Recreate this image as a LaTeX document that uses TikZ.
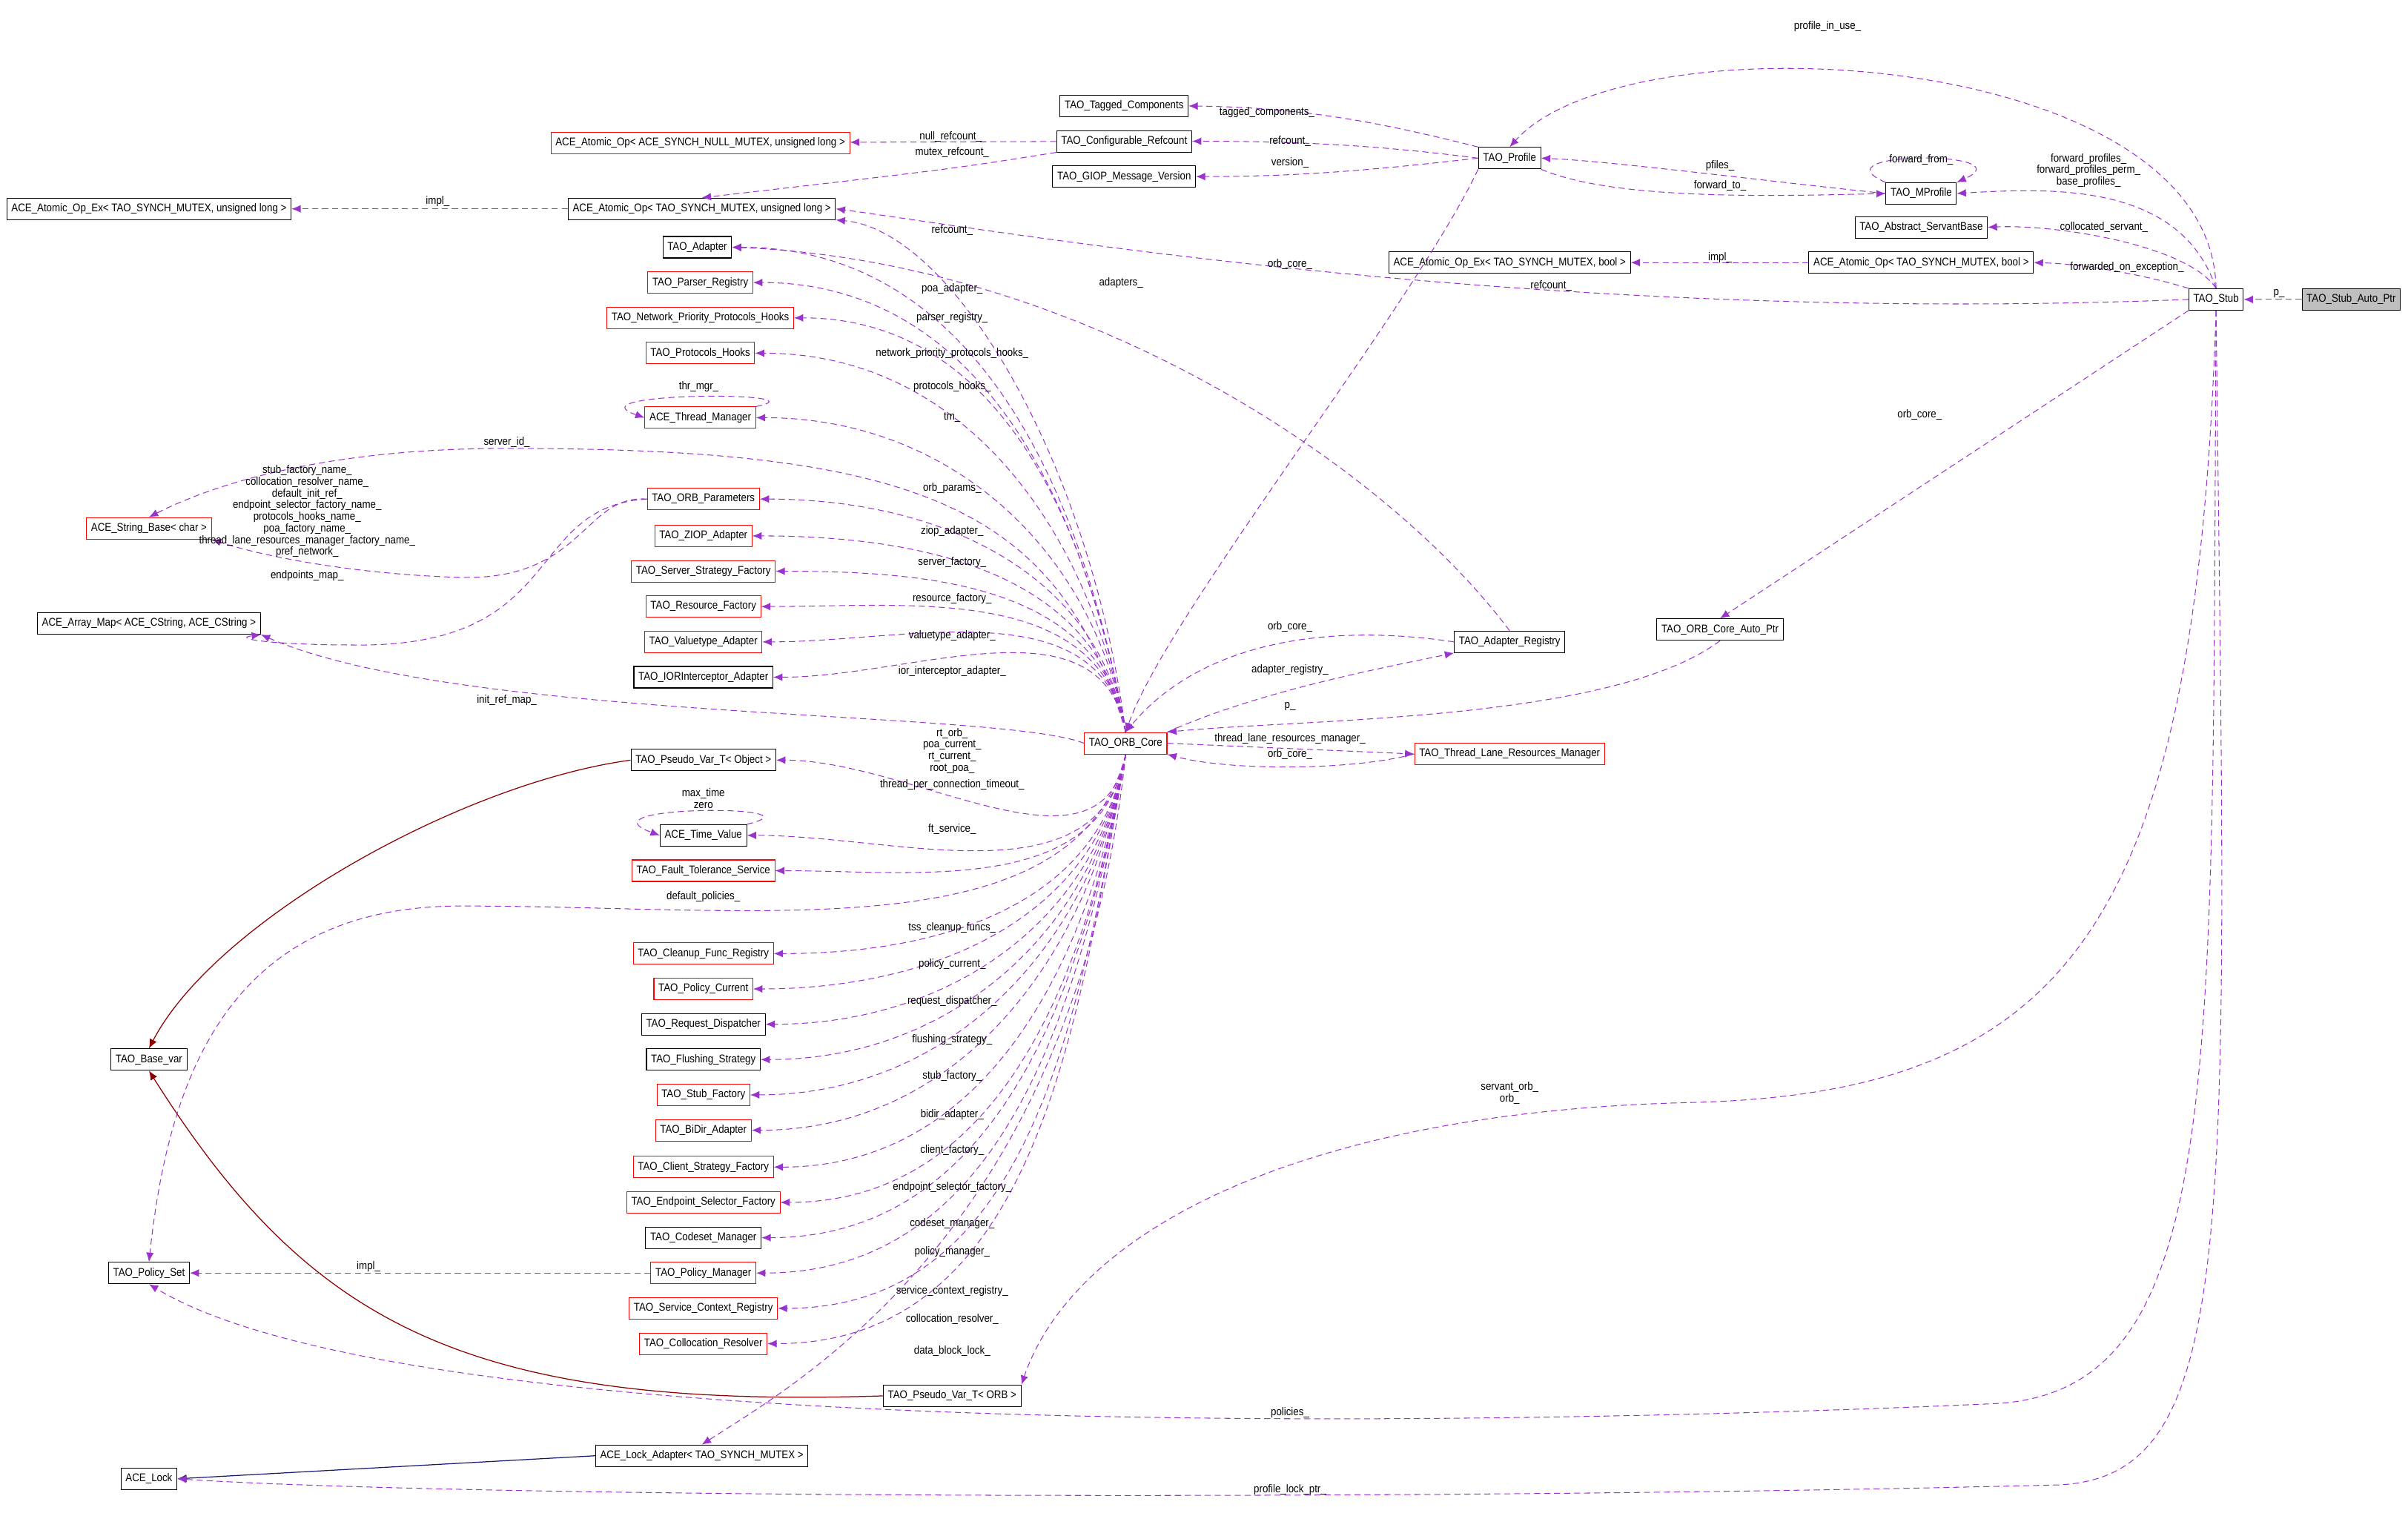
\documentclass[tikz,border=0pt]{standalone}
\usepackage{fontspec}
\setmainfont[FakeStretch=0.88]{Liberation Sans}
\usetikzlibrary{arrows.meta,positioning,calc}
\definecolor{dep}{HTML}{9A32CD}
\definecolor{inh}{HTML}{8B0000}
\definecolor{lockblue}{HTML}{191970}

\begin{document}
\begin{tikzpicture}[
    x=1pt, y=-1pt,
    box/.style={rectangle, draw=black, fill=white, line width=0.5pt, minimum height=14pt, inner xsep=3pt, inner ysep=1pt, font=\fontsize{7.3}{8}\selectfont},
    redbox/.style={box, draw=red},
    cur/.style={box, fill=black!25},
    uses/.style={-{Latex[length=6pt,width=5pt]}, draw=dep, line width=0.5pt, dash pattern=on 4pt off 2.5pt},
    inherits/.style={-{Latex[length=6pt,width=5pt]}, line width=0.6pt},
    lab/.style={font=\fontsize{7.3}{7.6}\selectfont, align=center, inner sep=0pt}
]
    \useasboundingbox (0,0) rectangle (1568,987);

    % classes
    \node[box] (atomicEx) at (97,136) {ACE\_Atomic\_Op\_Ex< TAO\_SYNCH\_MUTEX, unsigned long >};
    \node[redbox] (atomicNull) at (456,93) {ACE\_Atomic\_Op< ACE\_SYNCH\_NULL\_MUTEX, unsigned long >};
    \node[box] (atomicUL) at (457,136) {ACE\_Atomic\_Op< TAO\_SYNCH\_MUTEX, unsigned long >};
    \node[box] (adapter) at (454,161) {TAO\_Adapter};
    \node[redbox] (parser) at (456,184) {TAO\_Parser\_Registry};
    \node[redbox] (netprio) at (456,207) {TAO\_Network\_Priority\_Protocols\_Hooks};
    \node[redbox] (protohooks) at (456,230) {TAO\_Protocols\_Hooks};
    \node[redbox] (thrmgr) at (456,272) {ACE\_Thread\_Manager};
    \node[redbox] (stringbase) at (97,344) {ACE\_String\_Base< char >};
    \node[box] (arraymap) at (97,406) {ACE\_Array\_Map< ACE\_CString, ACE\_CString >};
    \node[redbox] (orbparams) at (458,325) {TAO\_ORB\_Parameters};
    \node[redbox] (ziop) at (458,349) {TAO\_ZIOP\_Adapter};
    \node[redbox] (serverstrat) at (458,372) {TAO\_Server\_Strategy\_Factory};
    \node[redbox] (resfact) at (458,395) {TAO\_Resource\_Factory};
    \node[redbox] (valuetype) at (458,418) {TAO\_Valuetype\_Adapter};
    \node[box] (iorint) at (458,441) {TAO\_IORInterceptor\_Adapter};
    \node[box] (pvobj) at (458,495) {TAO\_Pseudo\_Var\_T< Object >};
    \node[box] (timeval) at (458,544) {ACE\_Time\_Value};
    \node[redbox] (ftserv) at (458,567) {TAO\_Fault\_Tolerance\_Service};
    \node[redbox] (cleanup) at (458,621) {TAO\_Cleanup\_Func\_Registry};
    \node[redbox] (polcur) at (458,644) {TAO\_Policy\_Current};
    \node[box] (reqdisp) at (458,667) {TAO\_Request\_Dispatcher};
    \node[box] (flush) at (458,690) {TAO\_Flushing\_Strategy};
    \node[redbox] (stubfact) at (458,713) {TAO\_Stub\_Factory};
    \node[redbox] (bidir) at (458,736) {TAO\_BiDir\_Adapter};
    \node[redbox] (clientstrat) at (458,760) {TAO\_Client\_Strategy\_Factory};
    \node[redbox] (endpsel) at (458,783) {TAO\_Endpoint\_Selector\_Factory};
    \node[box] (codeset) at (458,806) {TAO\_Codeset\_Manager};
    \node[redbox] (polmgr) at (458,829) {TAO\_Policy\_Manager};
    \node[redbox] (svcctx) at (458,852) {TAO\_Service\_Context\_Registry};
    \node[redbox] (colres) at (458,875) {TAO\_Collocation\_Resolver};
    \node[box] (pvorb) at (620,909) {TAO\_Pseudo\_Var\_T< ORB >};
    \node[box] (basevar) at (97,690) {TAO\_Base\_var};
    \node[box] (polset) at (97,829) {TAO\_Policy\_Set};
    \node[box] (lockadapter) at (457,948) {ACE\_Lock\_Adapter< TAO\_SYNCH\_MUTEX >};
    \node[box] (acelock) at (97,963) {ACE\_Lock};
    \node[redbox] (orbcore) at (733,484) {TAO\_ORB\_Core};
    \node[box] (adreg) at (983,418) {TAO\_Adapter\_Registry};
    \node[redbox] (tlrm) at (983,491) {TAO\_Thread\_Lane\_Resources\_Manager};
    \node[box] (orbautoptr) at (1120,410) {TAO\_ORB\_Core\_Auto\_Ptr};
    \node[box] (tagged) at (732,69) {TAO\_Tagged\_Components};
    \node[box] (confref) at (732,92) {TAO\_Configurable\_Refcount};
    \node[box] (giop) at (732,115) {TAO\_GIOP\_Message\_Version};
    \node[box] (profile) at (983,103) {TAO\_Profile};
    \node[box] (mprofile) at (1251,126) {TAO\_MProfile};
    \node[box] (servantbase) at (1251,148) {TAO\_Abstract\_ServantBase};
    \node[box] (atomicExBool) at (983,171) {ACE\_Atomic\_Op\_Ex< TAO\_SYNCH\_MUTEX, bool >};
    \node[box] (atomicBool) at (1251,171) {ACE\_Atomic\_Op< TAO\_SYNCH\_MUTEX, bool >};
    \node[box] (stub) at (1443,195) {TAO\_Stub};
    \node[cur] (autoptr) at (1531,195) {TAO\_Stub\_Auto\_Ptr};

    % solid connectors
    \draw[inherits, draw=inh, -{Latex[length=6pt,width=5pt,fill=inh]}] (pvobj.west) .. controls (300,510) and (140,600) .. (basevar.north);
    \draw[inherits, draw=inh, -{Latex[length=6pt,width=5pt,fill=inh]}] (pvorb.west) .. controls (300,918) and (200,860) .. (basevar.south);
    \draw[inherits, draw=lockblue, -{Latex[length=6pt,width=5pt,fill=lockblue]}] (lockadapter.west) -- (acelock.east);

    % TAO_Stub side
    \draw[uses] (autoptr) -- (stub);
    \draw[uses] (stub.north) .. controls (1440,30) and (1060,10) .. (profile.north);
    \draw[uses] (stub.north) .. controls (1420,120) and (1340,122) .. (mprofile.east);
    \draw[uses] (stub.north) .. controls (1425,160) and (1340,146) .. (servantbase.east);
    \draw[uses] (stub.north west) .. controls (1400,180) and (1360,172) .. (atomicBool.east);
    \draw[uses] (stub.west) .. controls (1000,212) and (650,150) .. (atomicUL.east);
    \draw[uses] (stub.south west) -- (orbautoptr.north);
    \draw[uses] (stub.south) .. controls (1430,600) and (1350,712) .. (1100,718) .. controls (850,724) and (700,800) .. (pvorb.north east);
    \draw[uses] (stub.south) .. controls (1440,700) and (1450,905) .. (1300,914) .. controls (900,932) and (260,935) .. (polset.south);
    \draw[uses] (stub.south) .. controls (1450,800) and (1460,962) .. (1340,967) .. controls (900,978) and (300,975) .. (acelock.east);
    \draw[uses] (atomicBool) -- (atomicExBool);
    \draw[uses] (orbautoptr.south) .. controls (1050,470) and (850,468) .. (orbcore.north east);

    % TAO_Profile side
    \draw[uses] (profile.north west) .. controls (900,80) and (850,70) .. (tagged.east);
    \draw[uses] (profile.west) .. controls (900,95) and (850,92) .. (confref.east);
    \draw[uses] (profile.west) .. controls (900,110) and (850,115) .. (giop.east);
    \draw[uses] (profile.south west) .. controls (920,200) and (760,400) .. (orbcore.north);
    \draw[uses] (mprofile.west) .. controls (1150,118) and (1050,105) .. (profile.east);
    \draw[uses] (profile.south east) .. controls (1050,130) and (1150,128) .. (mprofile.west);
    \draw[uses] (mprofile.north west) .. controls (1180,98) and (1320,98) .. (mprofile.north east);
    \draw[uses] (confref) -- (atomicNull);
    \draw[uses] (confref.south west) .. controls (620,110) .. (atomicUL.north);
    \draw[uses] (atomicUL) -- (atomicEx);

    % TAO_ORB_Core side
    \draw[uses] (adreg.west) .. controls (860,405) and (780,420) .. (orbcore.north);
    \draw[uses] (orbcore.north east) .. controls (820,450) and (900,435) .. (adreg.south west);
    \draw[uses] (adreg.north) .. controls (900,300) and (700,170) .. (adapter.east);
    \draw[uses] (orbcore.east) -- (tlrm.west);
    \draw[uses] (tlrm.west) .. controls (880,502) and (800,502) .. (orbcore.south east);
    \draw[uses] (orbcore.north) .. controls (710,300) and (620,150) .. (atomicUL.south east);
    \foreach \dst in {adapter,parser,netprio,protohooks,thrmgr,orbparams,ziop,serverstrat,resfact,valuetype,iorint}
        \draw[uses] (orbcore.north) to[out=100,in=0] (\dst.east);
    \foreach \dst in {pvobj,timeval,ftserv,cleanup,polcur,reqdisp,flush,stubfact,bidir,clientstrat,endpsel,codeset,polmgr,svcctx,colres}
        \draw[uses] (orbcore.south) to[out=260,in=0] (\dst.east);
    \draw[uses] (thrmgr.north east) .. controls (540,255) and (370,255) .. (thrmgr.west);
    \draw[uses] (timeval.north east) .. controls (540,524) and (375,524) .. (timeval.west);
    \draw[uses] (orbcore.north) .. controls (690,330) and (600,292) .. (330,292) .. controls (200,292) and (130,320) .. (stringbase.north);
    \draw[uses] (orbparams.west) .. controls (380,322) and (380,378) .. (300,376) .. controls (230,374) and (170,362) .. (stringbase.south east);
    \draw[uses] (orbparams.west) .. controls (340,330) and (370,422) .. (230,420) .. controls (180,420) and (150,416) .. (arraymap.south east);
    \draw[uses] (orbcore.west) .. controls (650,462) and (300,470) .. (arraymap.south east);
    \draw[uses] (orbcore.south) .. controls (700,620) and (500,590) .. (300,590) .. controls (150,590) and (110,700) .. (polset.north);
    \draw[uses] (orbcore.south) .. controls (700,800) and (520,900) .. (lockadapter.north);
    \draw[uses] (polmgr) -- (polset);

    % labels
    \node[lab] at (1190,17) {profile\_in\_use\_};
    \node[lab] at (1360,111) {forward\_profiles\_\\forward\_profiles\_perm\_\\base\_profiles\_};
    \node[lab] at (1370,148) {collocated\_servant\_};
    \node[lab] at (1385,174) {forwarded\_on\_exception\_};
    \node[lab] at (1484,191) {p\_};
    \node[lab] at (1120,168) {impl\_};
    \node[lab] at (1010,186) {refcount\_};
    \node[lab] at (840,172) {orb\_core\_};
    \node[lab] at (1250,270) {orb\_core\_};
    \node[lab] at (840,460) {p\_};
    \node[lab] at (983,712) {servant\_orb\_\\orb\_};
    \node[lab] at (840,920) {policies\_};
    \node[lab] at (840,970) {profile\_lock\_ptr\_};
    \node[lab] at (825,73) {tagged\_components\_};
    \node[lab] at (840,92) {refcount\_};
    \node[lab] at (840,106) {version\_};
    \node[lab] at (1120,108) {pfiles\_};
    \node[lab] at (1120,121) {forward\_to\_};
    \node[lab] at (1251,104) {forward\_from\_};
    \node[lab] at (619,89) {null\_refcount\_};
    \node[lab] at (620,99) {mutex\_refcount\_};
    \node[lab] at (285,131) {impl\_};
    \node[lab] at (620,150) {refcount\_};
    \node[lab] at (730,184) {adapters\_};
    \node[lab] at (840,408) {orb\_core\_};
    \node[lab] at (840,436) {adapter\_registry\_};
    \node[lab] at (840,481) {thread\_lane\_resources\_manager\_};
    \node[lab] at (840,491) {orb\_core\_};
    \node[lab] at (620,188) {poa\_adapter\_};
    \node[lab] at (620,207) {parser\_registry\_};
    \node[lab] at (620,230) {network\_priority\_protocols\_hooks\_};
    \node[lab] at (620,252) {protocols\_hooks\_};
    \node[lab] at (455,252) {thr\_mgr\_};
    \node[lab] at (620,272) {tm\_};
    \node[lab] at (330,288) {server\_id\_};
    \node[lab] at (200,333) {stub\_factory\_name\_\\collocation\_resolver\_name\_\\default\_init\_ref\_\\endpoint\_selector\_factory\_name\_\\protocols\_hooks\_name\_\\poa\_factory\_name\_\\thread\_lane\_resources\_manager\_factory\_name\_\\pref\_network\_};
    \node[lab] at (200,375) {endpoints\_map\_};
    \node[lab] at (620,318) {orb\_params\_};
    \node[lab] at (620,346) {ziop\_adapter\_};
    \node[lab] at (620,366) {server\_factory\_};
    \node[lab] at (620,390) {resource\_factory\_};
    \node[lab] at (620,414) {valuetype\_adapter\_};
    \node[lab] at (620,437) {ior\_interceptor\_adapter\_};
    \node[lab] at (330,456) {init\_ref\_map\_};
    \node[lab] at (620,489) {rt\_orb\_\\poa\_current\_\\rt\_current\_\\root\_poa\_};
    \node[lab] at (620,511) {thread\_per\_connection\_timeout\_};
    \node[lab] at (458,520) {max\_time\\zero};
    \node[lab] at (620,540) {ft\_service\_};
    \node[lab] at (458,584) {default\_policies\_};
    \node[lab] at (620,604) {tss\_cleanup\_funcs\_};
    \node[lab] at (620,628) {policy\_current\_};
    \node[lab] at (620,652) {request\_dispatcher\_};
    \node[lab] at (620,677) {flushing\_strategy\_};
    \node[lab] at (620,701) {stub\_factory\_};
    \node[lab] at (620,726) {bidir\_adapter\_};
    \node[lab] at (620,749) {client\_factory\_};
    \node[lab] at (620,773) {endpoint\_selector\_factory\_};
    \node[lab] at (620,797) {codeset\_manager\_};
    \node[lab] at (620,815) {policy\_manager\_};
    \node[lab] at (620,841) {service\_context\_registry\_};
    \node[lab] at (620,859) {collocation\_resolver\_};
    \node[lab] at (620,880) {data\_block\_lock\_};
    \node[lab] at (240,825) {impl\_};
\end{tikzpicture}
\end{document}
